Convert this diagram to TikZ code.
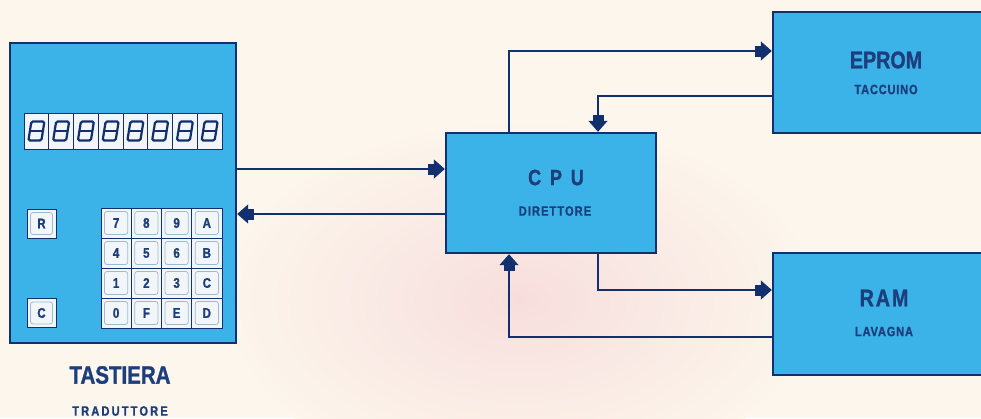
\documentclass[tikz,border=0pt]{standalone}
\usepackage{fontspec}
\usetikzlibrary{arrows.meta,calc}
\newfontfamily\cf{Liberation Sans}[FakeStretch=0.82, BoldFeatures={FakeBold=1.2}]
\definecolor{navy}{HTML}{12306E}
\definecolor{txtblue}{HTML}{1C3E7C}
\definecolor{boxblue}{HTML}{3CB3E8}
\definecolor{cream}{HTML}{FCF6EC}
\definecolor{pinkish}{HTML}{F7DEDD}
\definecolor{cellfill}{HTML}{F2F6F8}
\definecolor{bevel}{HTML}{9DBBD0}
\tikzset{
  unitbox/.style={draw=navy, line width=2.4pt, fill=boxblue, inner sep=0pt},
  conn/.style={draw=navy, line width=1.5pt},
  tip/.style={-{Rectangle[length=6pt,width=11pt,sep=0pt]Triangle[length=11pt,width=19pt,sep=0pt]}},
  title/.style={font=\cf\bfseries, text=txtblue, inner sep=0pt},
  digitcell/.style={minimum width=24.75pt, minimum height=36pt, draw=navy, line width=0.8pt, fill=cellfill, inner sep=0pt,
    path picture={
      \draw[navy, line width=2.2pt, rounded corners=1.5pt] ([shift={(-8pt,-9.5pt)}]path picture bounding box.center) -- ++(13pt,0) -- ++(3pt,19pt) -- ++(-13pt,0) -- cycle;
      \draw[navy, line width=2pt] ([shift={(-6.5pt,0pt)}]path picture bounding box.center) -- ++(13pt,0);
    }},
  keycell/.style={minimum width=30.25pt, minimum height=30pt, draw=navy, line width=0.9pt, fill=cellfill, inner sep=0pt,
    font=\cf\bfseries\fontsize{14}{14}\selectfont, text=txtblue,
    path picture={
      \draw[bevel, line width=0.8pt, rounded corners=2.5pt] ([shift={(3.5pt,3.5pt)}]path picture bounding box.south west) rectangle ([shift={(-3.5pt,-3.5pt)}]path picture bounding box.north east);
    }},
}
\begin{document}
\begin{tikzpicture}[x=1pt, y=-1pt]
\clip (0,0) rectangle (981,418);
\fill[cream] (0,0) rectangle (981,418);
\shade[inner color=pinkish, outer color=cream] (520,300) ellipse (300 and 180);

% units
\node[unitbox, minimum width=226pt, minimum height=300pt] (tast) at (123,193) {};
\node[unitbox, minimum width=210pt, minimum height=120pt] (cpu) at (551,193) {};
\node[unitbox, minimum width=230pt, minimum height=121pt] (eprom) at (888,72.5) {};
\node[unitbox, minimum width=230pt, minimum height=122pt] (ram) at (888,314) {};

% display
\foreach \i in {0,...,7}{
  \node[digitcell] (d\i) at ({36.4+24.75*\i},131) {};
}
% keypad
\foreach \lab [count=\i from 0] in {7,8,9,A,4,5,6,B,1,2,3,C,0,F,E,D}{
  \pgfmathtruncatemacro{\col}{mod(\i,4)}
  \pgfmathtruncatemacro{\row}{int(\i/4)}
  \node[keycell] (k\i) at ({116.1+30.25*\col},{223+30*\row}) {\lab};
}
\node[keycell, minimum width=29pt, minimum height=29pt] (kr) at (41.5,223.5) {R};
\node[keycell, minimum width=29pt, minimum height=29pt] (kc) at (41.5,313) {C};

% labels
\node[title, font=\cf\bfseries\fontsize{25}{25}\selectfont] (tastT) at (120,375) {TASTIERA};
\node[title, font=\cf\bfseries\fontsize{13.5}{13.5}\selectfont\addfontfeature{LetterSpace=16}] (tastS) at (120,411) {TRADUTTORE};
\node[title, font=\cf\bfseries\fontsize{22}{22}\selectfont\addfontfeature{LetterSpace=40}] (cpuT) at (556,177.5) {CPU};
\node[title, font=\cf\bfseries\fontsize{13.5}{13.5}\selectfont\addfontfeature{LetterSpace=8}] (cpuS) at (555,211) {DIRETTORE};
\node[title, font=\cf\bfseries\fontsize{24}{24}\selectfont] (epT) at (886,60) {EPROM};
\node[title, font=\cf\bfseries\fontsize{13.5}{13.5}\selectfont\addfontfeature{LetterSpace=6}] (epS) at (886,89.5) {TACCUINO};
\node[title, font=\cf\bfseries\fontsize{24}{24}\selectfont\addfontfeature{LetterSpace=8}] (ramT) at (884,298) {RAM};
\node[title, font=\cf\bfseries\fontsize{13.5}{13.5}\selectfont\addfontfeature{LetterSpace=6}] (ramS) at (884,331.5) {LAVAGNA};

% connectors
\draw[conn, tip] ([yshift=24pt]cpu.west -| tast.east) -- ([yshift=24pt]cpu.west);
\draw[conn, tip] ([yshift=-21pt]cpu.west) -- ([yshift=-21pt]cpu.west -| tast.east);
\draw[conn, tip] ([xshift=-42pt]cpu.north) |- ([yshift=21.5pt]eprom.west);
\draw[conn, tip] ([yshift=-23.5pt]eprom.west) -| ([xshift=47pt]cpu.north);
\draw[conn, tip] ([xshift=47pt]cpu.south) |- ([yshift=24pt]ram.west);
\draw[conn, tip] ([yshift=-23pt]ram.west) -| ([xshift=-42pt]cpu.south);
\end{tikzpicture}
\end{document}
